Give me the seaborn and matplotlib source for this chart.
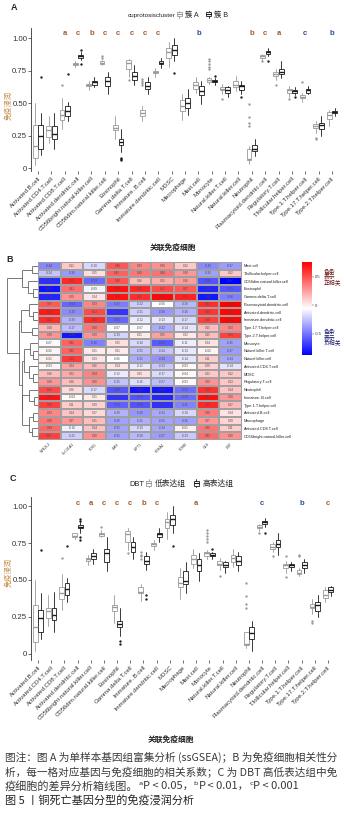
import numpy as np
import pandas as pd
import matplotlib
matplotlib.use("Agg")
import matplotlib.pyplot as plt
import seaborn as sns
from matplotlib.colors import LinearSegmentedColormap
from matplotlib.legend_handler import HandlerBase
from matplotlib.lines import Line2D
from matplotlib.patches import Rectangle

sns.set_theme(style="white")
plt.rcParams['font.family'] = ['Liberation Sans', 'Noto Sans CJK SC', 'DejaVu Sans']
plt.rcParams['axes.unicode_minus'] = False

# ---------------- data ----------------
cells = ["Activated.B.cell", "Activated.CD4.T.cell", "Activated.CD8.T.cell",
         "Activated.dendritic.cell", "CD56bright.natural.killer.cell",
         "CD56dim.natural.killer.cell", "Eosinophil", "Gamma.delta.T.cell",
         "Immature..B.cell", "Immature.dendritic.cell", "MDSC", "Macrophage",
         "Mast.cell", "Monocyte", "Natural.killer.T.cell", "Natural.killer.cell",
         "Neutrophil", "Plasmacytoid.dendritic.cell", "Regulatory.T.cell",
         "T.follicular.helper.cell", "Type.1.T.helper.cell",
         "Type.17.T.helper.cell", "Type.2.T.helper.cell"]

# panel A : cuproptosis cluster A (grey) / cluster B (black)
cluA_lo  = [0.02,0.19,0.30,0.78,0.60,0.79,0.22,0.70,0.36,0.70,0.78,0.37,0.58,0.65,0.57,0.59,0.03,0.83,0.68,0.55,0.51,0.27,0.32]
cluA_q1  = [0.08,0.24,0.37,0.79,0.63,0.80,0.29,0.76,0.40,0.73,0.85,0.44,0.61,0.66,0.60,0.62,0.06,0.85,0.71,0.58,0.54,0.31,0.38]
cluA_med = [0.17,0.29,0.41,0.80,0.64,0.81,0.31,0.81,0.42,0.74,0.89,0.48,0.64,0.68,0.61,0.64,0.07,0.86,0.72,0.60,0.55,0.32,0.41]
cluA_q3  = [0.33,0.32,0.45,0.81,0.65,0.82,0.33,0.83,0.45,0.75,0.92,0.52,0.66,0.69,0.62,0.67,0.15,0.87,0.74,0.61,0.56,0.34,0.43]
cluA_hi  = [0.50,0.40,0.54,0.82,0.67,0.83,0.40,0.84,0.48,0.77,0.97,0.57,0.70,0.70,0.65,0.71,0.17,0.88,0.76,0.63,0.58,0.36,0.45]
cluA_out = {2: [0.64], 5: [0.85, 0.86], 7: [0.68], 8: [0.64, 0.655, 0.67, 0.685],
            13: [0.76, 0.78, 0.80, 0.82, 0.84], 14: [0.53], 16: [0.32, 0.35, 0.39, 0.49],
            17: [0.82], 18: [0.64], 19: [0.53], 20: [0.66], 21: [0.22, 0.23]}

cluB_lo  = [0.10,0.15,0.36,0.83,0.62,0.57,0.12,0.64,0.57,0.77,0.82,0.41,0.49,0.64,0.55,0.57,0.09,0.86,0.69,0.56,0.57,0.25,0.40]
cluB_q1  = [0.15,0.22,0.40,0.85,0.64,0.63,0.18,0.68,0.61,0.80,0.87,0.46,0.56,0.66,0.58,0.60,0.13,0.88,0.72,0.58,0.58,0.30,0.42]
cluB_med = [0.25,0.26,0.44,0.86,0.66,0.67,0.20,0.71,0.63,0.81,0.91,0.50,0.59,0.67,0.60,0.63,0.15,0.89,0.74,0.59,0.60,0.33,0.43]
cluB_q3  = [0.33,0.32,0.48,0.87,0.67,0.70,0.22,0.74,0.66,0.82,0.95,0.54,0.63,0.68,0.62,0.64,0.18,0.90,0.76,0.60,0.61,0.35,0.44]
cluB_hi  = [0.42,0.42,0.51,0.89,0.70,0.74,0.30,0.79,0.70,0.85,1.00,0.61,0.67,0.69,0.63,0.67,0.22,0.92,0.82,0.62,0.63,0.40,0.46]
cluB_out = {0: [0.70], 2: [0.72], 3: [0.80, 0.91], 6: [0.06, 0.07, 0.08], 10: [0.73],
            13: [0.71], 15: [0.55], 17: [0.82], 19: [0.55]}

sigA = {2: 'a', 3: 'c', 4: 'b', 5: 'c', 6: 'c', 7: 'c', 8: 'c', 9: 'c',
        12: 'b', 16: 'b', 17: 'c', 18: 'a', 20: 'c', 22: 'b'}
blueA = [12, 20, 22]

# panel C : DBT low (grey) / high (black)
dbtL_lo  = [0.02,0.19,0.30,0.78,0.60,0.79,0.21,0.70,0.36,0.70,0.78,0.37,0.58,0.64,0.57,0.59,0.04,0.83,0.69,0.55,0.53,0.27,0.35]
dbtL_q1  = [0.08,0.24,0.37,0.79,0.63,0.80,0.29,0.76,0.41,0.73,0.85,0.45,0.61,0.66,0.60,0.62,0.06,0.85,0.71,0.58,0.54,0.31,0.38]
dbtL_med = [0.18,0.29,0.41,0.80,0.64,0.81,0.32,0.81,0.42,0.74,0.89,0.48,0.64,0.68,0.61,0.65,0.07,0.86,0.72,0.60,0.55,0.32,0.40]
dbtL_q3  = [0.33,0.31,0.45,0.82,0.65,0.82,0.33,0.83,0.45,0.75,0.91,0.52,0.67,0.69,0.63,0.67,0.15,0.87,0.74,0.61,0.57,0.34,0.43]
dbtL_hi  = [0.50,0.40,0.54,0.82,0.67,0.84,0.40,0.85,0.47,0.77,0.96,0.58,0.71,0.70,0.65,0.71,0.15,0.88,0.76,0.63,0.58,0.37,0.45]
dbtL_out = {2: [0.65], 5: [0.86], 7: [0.68], 8: [0.64, 0.66, 0.67, 0.69],
            13: [0.76, 0.78, 0.80, 0.82, 0.84], 14: [0.53], 16: [0.31, 0.34, 0.39, 0.48],
            17: [0.82], 18: [0.66], 19: [0.52, 0.66], 20: [0.66, 0.67], 21: [0.21, 0.22]}

dbtH_lo  = [0.10,0.15,0.35,0.82,0.61,0.56,0.12,0.64,0.57,0.76,0.82,0.41,0.49,0.64,0.55,0.56,0.02,0.86,0.67,0.56,0.55,0.25,0.39]
dbtH_q1  = [0.15,0.23,0.40,0.85,0.64,0.62,0.18,0.69,0.61,0.79,0.87,0.47,0.56,0.66,0.59,0.60,0.10,0.88,0.72,0.59,0.58,0.29,0.42]
dbtH_med = [0.24,0.26,0.44,0.86,0.66,0.68,0.20,0.72,0.63,0.81,0.91,0.49,0.60,0.67,0.60,0.63,0.14,0.89,0.74,0.60,0.60,0.33,0.43]
dbtH_q3  = [0.30,0.31,0.48,0.87,0.68,0.71,0.22,0.76,0.66,0.82,0.94,0.56,0.64,0.68,0.62,0.66,0.18,0.90,0.77,0.61,0.62,0.35,0.45]
dbtH_hi  = [0.41,0.42,0.51,0.89,0.71,0.79,0.31,0.79,0.69,0.85,1.00,0.62,0.68,0.69,0.63,0.69,0.22,0.92,0.82,0.62,0.64,0.40,0.46]
dbtH_out = {0: [0.70], 2: [0.73], 3: [0.77, 0.79, 0.90, 0.91], 6: [0.07, 0.09],
            8: [0.37, 0.40], 10: [0.73], 13: [0.71], 17: [0.82]}

sigC = {3: 'c', 4: 'a', 5: 'c', 6: 'c', 7: 'c', 8: 'b', 9: 'c', 12: 'a',
        17: 'c', 20: 'b', 22: 'c'}
blueC = [17, 20]

# panel B : correlation of cuproptosis genes with immune cells
hm_rows = ["Mast.cell", "T.follicular.helper.cell", "CD56dim.natural.killer.cell",
           "Eosinophil", "Gamma.delta.T.cell", "Plasmacytoid.dendritic.cell",
           "Activated.dendritic.cell", "Immature.dendritic.cell", "Type.17.T.helper.cell",
           "Type.2.T.helper.cell", "Monocyte", "Natural.killer.T.cell",
           "Natural.killer.cell", "Activated.CD4.T.cell", "MDSC", "Regulatory.T.cell",
           "Neutrophil", "Immature..B.cell", "Type.1.T.helper.cell", "Activated.B.cell",
           "Macrophage", "Activated.CD8.T.cell", "CD56bright.natural.killer.cell"]
genes = ["NFE2L2", "SLC31A1", "FDX1", "LIAS", "LIPT1", "PDHA1", "PDHB", "GLS", "DBT"]
NFE2L2  = [-0.44,-0.24,-0.72,-0.81,-0.75,0.47,0.68,0.62,0.18,0.29,-0.07,-0.02,-0.01,-0.03,0.16,0.28,0.53,0.69,0.56,0.33,0.38,0.43,0.55]
SLC31A1 = [0.12,-0.38,0.63,0.41,0.29,-0.54,-0.43,-0.30,-0.27,-0.80,0.45,0.45,0.58,0.24,0.22,0.16,0.06,-0.04,0.11,0.14,0.27,-0.10,-0.22]
FDX1    = [-0.18,0.05,-0.53,-0.09,0.04,0.33,0.52,0.62,0.38,0.29,-0.46,0.01,0.03,0.16,0.34,0.30,-0.17,0.01,0.09,0.07,0.15,0.14,0.30]
LIAS    = [0.48,0.45,0.49,0.70,0.70,-0.47,-0.70,-0.55,-0.07,-0.19,0.05,0.01,-0.06,0.04,-0.12,-0.25,-0.60,-0.71,-0.56,-0.30,-0.36,-0.35,-0.35]
LIPT1   = [0.33,0.39,0.16,0.63,0.61,-0.22,-0.21,-0.12,-0.07,0.01,-0.18,-0.25,-0.32,-0.12,0.05,-0.16,-0.80,-0.60,-0.60,-0.39,-0.31,-0.18,-0.28]
PDHA1   = [0.30,0.40,0.21,0.52,0.73,-0.06,-0.38,-0.13,-0.32,0.25,-0.58,-0.24,-0.40,-0.23,-0.17,-0.27,-0.80,-0.75,-0.71,-0.33,-0.35,-0.34,-0.37]
PDHB    = [0.12,0.28,0.26,0.47,0.65,-0.28,-0.30,-0.17,-0.14,0.02,-0.11,-0.13,-0.14,-0.03,-0.04,-0.03,-0.52,-0.53,-0.45,-0.18,-0.36,-0.01,-0.23]
GLS     = [-0.43,-0.36,-0.60,-0.75,-0.80,0.61,0.59,0.56,0.15,0.15,0.04,-0.02,0.11,0.09,0.12,0.29,0.60,0.71,0.63,0.36,0.27,0.39,0.42]
DBT     = [-0.37,0.12,-0.87,-0.59,-0.46,0.76,0.74,0.74,0.33,0.55,-0.36,-0.37,-0.34,-0.14,0.12,0.13,0.14,0.28,0.17,0.04,0.08,0.11,0.30]

# row clustering tree (merge height, left, right); leaves = row index
row_tree = (1.0,
            (0.5, (0.2, 0, 1), (0.33, 2, (0.17, 3, 4))),
            (0.6,
             (0.55, (0.3, 5, (0.15, 6, 7)), (0.2, 8, 9)),
             (0.52,
              (0.45, (0.25, 10, (0.15, 11, 12)), (0.28, 13, (0.15, 14, 15))),
              (0.5, (0.3, 16, (0.12, 17, 18)), (0.3, (0.15, 19, 20), (0.18, 21, 22))))))

caption1 = "图注：图 A 为单样本基因组富集分析 (ssGSEA)；B 为免疫细胞相关性分"
caption2 = "析，每一格对应基因与免疫细胞的相关系数；C 为 DBT 高低表达组中免"
caption4 = "图 5 丨铜死亡基因分型的免疫浸润分析"

# ---------------- helpers ----------------
W, H = 344, 813
fig = plt.figure(figsize=(W / 100, H / 100), dpi=100)
fig.patch.set_facecolor('white')


def fx(px):
    return px / W


def fy(py):
    return 1 - py / H


def add_ax(left, top, right, bottom):
    return fig.add_axes([fx(left), fy(bottom), (right - left) / W, (bottom - top) / H])


GREY = '#9a9a9a'
BLACK = '#1a1a1a'
BROWN = '#a4582a'
BLUE = '#2b4c9b'
ORANGE = '#c98a45'


def draw_group(ax, lo, q1, med, q3, hi, out, offset, color):
    stats = []
    for i in range(len(cells)):
        stats.append(dict(whislo=lo[i], q1=q1[i], med=med[i], q3=q3[i], whishi=hi[i],
                          fliers=out.get(i, [])))
    ax.bxp(stats, positions=np.arange(len(cells)) + offset, widths=0.36,
           patch_artist=True, showcaps=False, manage_ticks=False,
           boxprops=dict(facecolor='white', edgecolor=color, linewidth=0.6),
           medianprops=dict(color=color, linewidth=1.0),
           whiskerprops=dict(color=color, linewidth=0.6),
           flierprops=dict(marker='o', markersize=1.7, markerfacecolor=color,
                           markeredgecolor=color, markeredgewidth=0))


def style_box_axes(ax, ylim, sig, blue, sig_y):
    ax.set_xlim(-0.5, len(cells) - 0.5)
    ax.set_ylim(*ylim)
    ax.set_yticks([0, 0.25, 0.5, 0.75, 1.0])
    ax.set_yticklabels(['0', '0.25', '0.50', '0.75', '1.00'])
    ax.set_xticks(np.arange(len(cells)))
    ax.set_xticklabels(cells, rotation=45, ha='right', rotation_mode='anchor')
    ax.tick_params(axis='x', labelsize=4.3, length=2, width=0.5, pad=1.5, colors='#333333',
                   bottom=True)
    ax.tick_params(axis='y', labelsize=5.6, length=2, width=0.5, pad=1, colors='#333333',
                   left=True)
    sns.despine(ax=ax, top=True, right=True, bottom=True)
    ax.spines['left'].set_color('#333333')
    ax.spines['left'].set_linewidth(0.6)
    ax.set_facecolor('white')
    for i, s in sig.items():
        ax.text(i, sig_y, s, ha='center', va='center', fontsize=5.5, fontweight='bold',
                color=BLUE if i in blue else BROWN)


class BoxKey(HandlerBase):
    def create_artists(self, legend, orig_handle, xdescent, ydescent, width, height,
                       fontsize, trans):
        c = orig_handle.get_edgecolor()
        x0, y0 = -xdescent, -ydescent
        bw = width * 0.75
        bx = x0 + (width - bw) / 2
        xm = x0 + width / 2
        rect = Rectangle((bx, y0 + height * 0.15), bw, height * 0.7, facecolor='white',
                         edgecolor=c, linewidth=0.6, transform=trans)
        med = Line2D([bx, bx + bw], [y0 + height * 0.5] * 2, color=c, lw=0.8, transform=trans)
        w1 = Line2D([xm, xm], [y0 - height * 0.1, y0 + height * 0.15], color=c, lw=0.6,
                    transform=trans)
        w2 = Line2D([xm, xm], [y0 + height * 0.85, y0 + height * 1.1], color=c, lw=0.6,
                    transform=trans)
        return [rect, med, w1, w2]


def box_legend(title, labels, title_x, y, title_size, label_size):
    fig.text(fx(title_x), fy(y), title, ha='right', va='center', fontsize=title_size,
             color='#222222')
    h1 = Rectangle((0, 0), 1, 1, edgecolor=GREY, facecolor='white')
    h2 = Rectangle((0, 0), 1, 1, edgecolor=BLACK, facecolor='white')
    fig.legend([h1, h2], labels, loc='center left', bbox_to_anchor=(fx(title_x + 1), fy(y)),
               ncol=2, frameon=False, fontsize=label_size, borderpad=0, borderaxespad=0,
               handlelength=0.9, handleheight=0.9, handletextpad=0.35, columnspacing=0.9,
               handler_map={h1: BoxKey(), h2: BoxKey()})


# ---------------- panel A ----------------
axA = add_ax(31.3, 27.6, 338.7, 171)
draw_group(axA, cluA_lo, cluA_q1, cluA_med, cluA_q3, cluA_hi, cluA_out, -0.21, GREY)
draw_group(axA, cluB_lo, cluB_q1, cluB_med, cluB_q3, cluB_hi, cluB_out, 0.21, BLACK)
style_box_axes(axA, (-0.023, 1.08), sigA, blueA, 1.038)
fig.text(fx(14), fy(8), 'A', fontsize=6.5, fontweight='bold', ha='center', va='center')
box_legend('cuprotosiscluster', ['簇 A', '簇 B'], 175, 15, 4.6, 5.2)
fig.text(fx(9), fy(106), '免疫浸润', rotation=90, ha='center', va='center', fontsize=5.2,
         color=ORANGE)
fig.text(fx(173), fy(248), '关联免疫细胞', ha='center', va='center', fontsize=5.6,
         fontweight='bold', color='#222222')

# ---------------- panel B ----------------
corr = pd.DataFrame({'NFE2L2': NFE2L2, 'SLC31A1': SLC31A1, 'FDX1': FDX1, 'LIAS': LIAS,
                     'LIPT1': LIPT1, 'PDHA1': PDHA1, 'PDHB': PDHB, 'GLS': GLS, 'DBT': DBT},
                    index=hm_rows)[genes]
vmin, vmax = corr.values.min(), corr.values.max()
cmap = LinearSegmentedColormap.from_list('bwr_ph', ['#0000ff', '#ffffff', '#ff0000'])

axH = add_ax(38, 261.8, 242, 440)
cax = add_ax(302, 262, 312, 355)
sns.heatmap(corr, ax=axH, cmap=cmap, vmin=vmin, vmax=vmax, annot=True, fmt='.2f',
            annot_kws={'size': 2.2, 'color': '#4a4a4a'}, linewidths=0.35,
            linecolor='#a0a0a0', cbar_ax=cax, xticklabels=genes, yticklabels=hm_rows)
axH.yaxis.tick_right()
axH.set_yticklabels(hm_rows, rotation=0, fontsize=2.8, color='#222222')
axH.set_xticklabels(genes, rotation=45, ha='right', rotation_mode='anchor', fontsize=2.6,
                    color='#333333')
axH.tick_params(length=0, pad=1.5)
axH.set_xlabel('')
axH.set_ylabel('')
cb = axH.collections[0].colorbar
cb.set_ticks([-0.5, 0, 0.5])
cb.set_ticklabels(['-0.5', '0', '0.5'])
cb.outline.set_visible(False)
cax.tick_params(labelsize=3, length=1.2, width=0.3, pad=0.8, colors='#333333')
fig.text(fx(10), fy(260), 'B', fontsize=6.5, fontweight='bold', ha='center', va='center')
fig.text(fx(324), fy(277), '色条\n表示\n正相关', ha='left', va='center', fontsize=4.2,
         linespacing=0.85, color='#6b1515')
fig.text(fx(324), fy(338), '色条\n表示\n负相关', ha='left', va='center', fontsize=4.2,
         linespacing=0.85, color='#15156b')

# dendrogram of rows
axD = add_ax(2, 261.8, 38, 440)
axD.set_ylim(len(hm_rows), 0)
axD.set_xlim(1.16, 0)
axD.axis('off')


def draw_tree(node):
    if not isinstance(node, tuple):
        return node + 0.5, 0.0
    h, left, right = node
    y1, h1 = draw_tree(left)
    y2, h2 = draw_tree(right)
    kw = dict(color='#555555', lw=0.55, solid_capstyle='butt')
    axD.plot([h1, h], [y1, y1], **kw)
    axD.plot([h2, h], [y2, y2], **kw)
    axD.plot([h, h], [y1, y2], **kw)
    return (y1 + y2) / 2, h


draw_tree(row_tree)

# ---------------- panel C ----------------
axC = add_ax(31.4, 497, 334.6, 660)
draw_group(axC, dbtL_lo, dbtL_q1, dbtL_med, dbtL_q3, dbtL_hi, dbtL_out, -0.21, GREY)
draw_group(axC, dbtH_lo, dbtH_q1, dbtH_med, dbtH_q3, dbtH_hi, dbtH_out, 0.21, BLACK)
style_box_axes(axC, (-0.041, 1.061), sigC, blueC, 1.014)
fig.text(fx(13), fy(478), 'C', fontsize=6.5, fontweight='bold', ha='center', va='center')
box_legend('DBT', ['低表达组', '高表达组'], 144, 484, 5.4, 5.6)
fig.text(fx(9), fy(572), '免疫浸润', rotation=90, ha='center', va='center', fontsize=5.2,
         color=ORANGE)
fig.text(fx(171), fy(740), '关联免疫细胞', ha='center', va='center', fontsize=5.6,
         fontweight='bold', color='#222222')

# ---------------- caption ----------------
cap_font = ['Noto Sans CJK SC', 'DejaVu Sans']
renderer = fig.canvas.get_renderer()


def fit_line(text, y, width):
    t = fig.text(fx(5), fy(y), text, ha='left', va='center', fontsize=8, family=cap_font,
                 color='#3a3a3a')
    w = t.get_window_extent(renderer).width
    t.set_fontsize(8 * width / w)
    return t


fit_line(caption1, 757, 333)
fit_line(caption2, 772, 333)

pieces = [("疫细胞的差异分析箱线图。", {}), ("ᵃ", {}), ("P", {'style': 'italic'}),
          (" < 0.05，", {}), ("ᵇ", {}), ("P", {'style': 'italic'}), (" < 0.01，", {}),
          ("ᶜ", {}), ("P", {'style': 'italic'}), (" < 0.001", {})]
x = 5.0
for s, kw in pieces:
    t = fig.text(fx(x), fy(786), s, ha='left', va='center', fontsize=8, family=cap_font,
                 color='#3a3a3a', **kw)
    x += t.get_window_extent(renderer).width * W / fig.bbox.width

fig.text(fx(5), fy(800), caption4, ha='left', va='center', fontsize=8, family=cap_font,
         color='#222222')

fig.savefig('out.png', dpi=100, facecolor='white')
